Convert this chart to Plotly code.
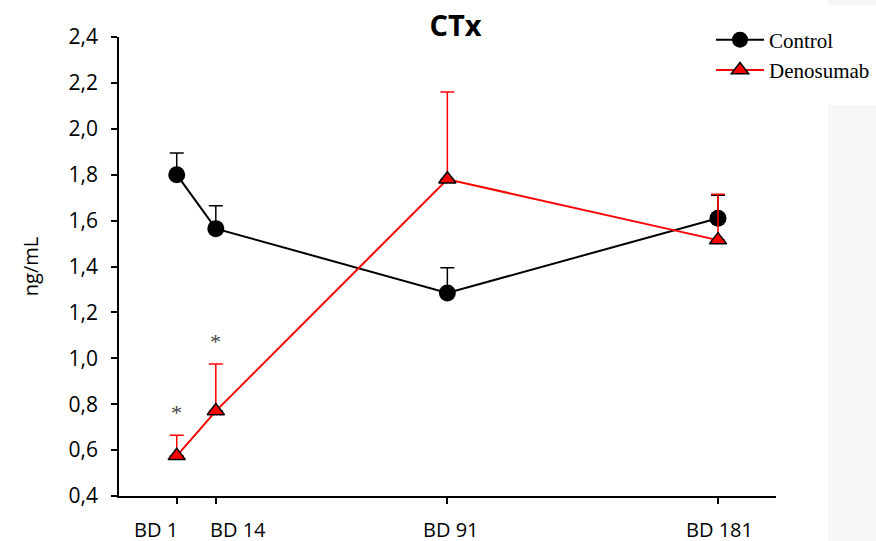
import plotly.graph_objects as go

# ---- data ----
days = [1, 14, 91, 181]
day_labels = ["BD 1", "BD 14", "BD 91", "BD 181"]
control = [1.80, 1.565, 1.285, 1.61]
control_err = [0.095, 0.10, 0.11, 0.10]
denosumab = [0.575, 0.77, 1.78, 1.515]
denosumab_err = [0.09, 0.205, 0.38, 0.20]
sig_idx = [0, 1]  # points marked with *
y_ticks = [0.4, 0.6, 0.8, 1.0, 1.2, 1.4, 1.6, 1.8, 2.0, 2.2, 2.4]
y_ticklabels = ["0,4", "0,6", "0,8", "1,0", "1,2", "1,4", "1,6", "1,8", "2,0", "2,2", "2,4"]

# label placement (anchor, pixel shift) so that BD 1 / BD 14 do not overlap
label_anchor = ["right", "left", "center", "center"]
label_shift = [3, -8, 4, 2]

W, H = 876, 541
L, T = 119, 37
PW, PH = 657, 459

fig = go.Figure()

fig.add_trace(go.Scatter(
    x=days, y=control, name="Control", mode="lines+markers",
    line=dict(color="black", width=2),
    marker=dict(symbol="circle", size=17, color="black"),
    error_y=dict(type="data", array=control_err, arrayminus=[0] * len(control_err),
                 symmetric=False, color="black", thickness=1.5, width=7),
))
fig.add_trace(go.Scatter(
    x=days, y=denosumab, name="Denosumab", mode="lines+markers",
    line=dict(color="#ff0000", width=2),
    marker=dict(symbol="triangle-up", size=15, color="#ff0000",
                line=dict(color="black", width=1.5)),
    error_y=dict(type="data", array=denosumab_err, arrayminus=[0] * len(denosumab_err),
                 symmetric=False, color="#ff0000", thickness=1.5, width=7),
))

for i in sig_idx:
    fig.add_annotation(x=days[i], y=denosumab[i] + denosumab_err[i] + 0.10,
                       text="*", showarrow=False,
                       font=dict(family="Liberation Serif", size=22, color="#444444"))

for d, lab, anc, sh in zip(days, day_labels, label_anchor, label_shift):
    fig.add_annotation(x=d, xref="x", y=0, yref="paper", yanchor="middle",
                       yshift=-33, xanchor=anc, xshift=sh, text=lab, showarrow=False,
                       height=24, valign="middle",
                       font=dict(family="Open Sans", size=20, color="black"))

# light grey side panel of the original slide (x >= 828)
fig.add_shape(type="rect", xref="paper", yref="paper", layer="below",
              x0=(828 - L) / PW, x1=(W + 5 - L) / PW,
              y0=1 - (105 - T) / PH, y1=-(H + 5 - T - PH) / PH,
              fillcolor="#f7f7f7", line=dict(width=0))
fig.add_shape(type="rect", xref="paper", yref="paper", layer="below",
              x0=(828 - L) / PW, x1=(W + 5 - L) / PW,
              y0=1 + (T - 6) / PH, y1=1 + (T + 5) / PH,
              fillcolor="#f7f7f7", line=dict(width=0))

fig.update_layout(
    width=W, height=H,
    margin=dict(l=L, r=W - L - PW, t=T, b=H - T - PH, pad=0, autoexpand=False),
    paper_bgcolor="white", plot_bgcolor="white",
    title=dict(text="<b>CTx</b>", x=455.5 / W, xref="container", xanchor="center",
               y=1 - 26 / H, yref="container", yanchor="middle",
               font=dict(family="Open Sans", size=29, color="black")),
    showlegend=True,
    legend=dict(x=711 / W, y=1 - 19.5 / H, xref="container", yref="container",
                xanchor="left", yanchor="top",
                font=dict(family="Liberation Serif", size=21, color="black"),
                bgcolor="rgba(0,0,0,0)", itemwidth=48, tracegroupgap=0),
    xaxis=dict(range=[-18.2, 200.3], tickvals=days, ticktext=[""] * len(days),
               showline=True, linecolor="black", linewidth=1.5, mirror=False,
               ticks="outside", ticklen=6, tickcolor="black", tickwidth=1.5,
               showgrid=False, zeroline=False, automargin=False),
    yaxis=dict(range=[0.4, 2.4], tickvals=y_ticks, ticktext=y_ticklabels,
               showline=True, linecolor="black", linewidth=1.5,
               ticks="outside", ticklen=6, tickcolor="black", tickwidth=1.5,
               ticklabelstandoff=9, automargin=False,
               showgrid=False, zeroline=False,
               title=dict(text="ng/mL", standoff=25,
                          font=dict(family="Open Sans", size=20, color="black")),
               tickfont=dict(family="Open Sans", size=21, color="black")),
)

# remove the browser's default 8px body margin so the figure fills the window
fig.write_html("out.html", config={"displayModeBar": False},
               post_script="document.body.style.margin='0';document.body.style.overflow='hidden';")
